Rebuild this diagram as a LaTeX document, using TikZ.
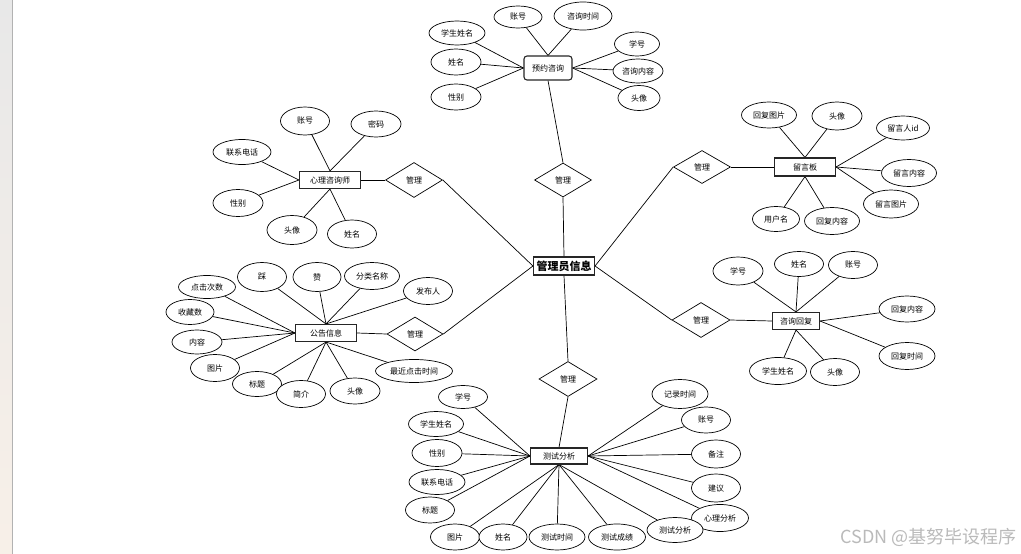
\documentclass[tikz,border=0pt]{standalone}
\usepackage{fontspec}
\newfontfamily\cjk{Noto Sans CJK SC}
\usetikzlibrary{shapes.geometric,backgrounds}
\begin{document}
\begin{tikzpicture}[x=1pt,y=-1pt,
  attr/.style={ellipse, draw, line width=0.7pt, fill=white, inner sep=0pt,
    minimum width=49pt, minimum height=26pt, font=\cjk\fontsize{8}{9}\selectfont},
  ent/.style={rectangle, draw=black!85, line width=1.1pt, fill=white, inner sep=0pt,
    minimum width=61pt, minimum height=17pt, font=\cjk\fontsize{8}{9}\selectfont},
  rel/.style={diamond, draw, line width=0.7pt, fill=white, aspect=1.7, inner sep=0pt,
    minimum width=57pt, minimum height=34pt, font=\cjk\fontsize{8}{9}\selectfont},
  link/.style={line width=0.7pt}]
\useasboundingbox (0,0) rectangle (1021,554);

% top cluster
\node[ent, rounded corners=3pt, minimum width=48pt, minimum height=24pt] (yy) at (548,68) {预约咨询};
\node[attr, minimum width=48pt, minimum height=22pt] (yy1) at (518,17) {账号};
\node[attr, minimum width=58pt, minimum height=28pt] (yy2) at (583,16) {咨询时间};
\node[attr, minimum width=56pt, minimum height=24pt] (yy3) at (457,33) {学生姓名};
\node[attr, minimum width=50pt] (yy4) at (456,62) {姓名};
\node[attr, minimum width=50pt] (yy5) at (456,97) {性别};
\node[attr, minimum width=45pt, minimum height=24pt] (yy6) at (637,44) {学号};
\node[attr, minimum width=50pt, minimum height=24pt] (yy7) at (638,71) {咨询内容};
\node[attr, minimum width=42pt, minimum height=25pt] (yy8) at (639,98) {头像};

% center
\node[rel] (r1) at (563,180) {管理};
\node[ent, font=\cjk\bfseries\fontsize{11}{12}\selectfont, minimum width=61pt, minimum height=18pt] (admin) at (564,266) {管理员信息};
\node[rel, minimum width=58pt, minimum height=35pt] (r6) at (568,379) {管理};

% left top
\node[ent] (xl) at (330,180) {心理咨询师};
\node[attr, minimum height=28pt] (xl1) at (305,121) {账号};
\node[attr, minimum width=50pt] (xl2) at (376,124) {密码};
\node[attr, minimum width=58pt, minimum height=25pt] (xl3) at (242,152) {联系电话};
\node[attr, minimum width=50pt, minimum height=27pt] (xl4) at (238,203) {性别};
\node[attr, minimum width=50pt, minimum height=29pt] (xl5) at (292,230) {头像};
\node[attr, minimum height=28pt] (xl6) at (352,234) {姓名};
\node[rel, minimum height=35pt] (r2) at (414,180) {管理};

% right top
\node[ent, minimum height=18pt] (ly) at (805,167) {留言板};
\node[rel, minimum height=33pt] (r3) at (702,167) {管理};
\node[attr, minimum width=55pt] (ly1) at (769,115) {回复图片};
\node[attr, minimum width=50pt, minimum height=28pt] (ly2) at (837,116) {头像};
\node[attr, minimum width=53pt, minimum height=24pt] (ly3) at (903,128) {留言人id};
\node[attr, minimum width=55pt, minimum height=27pt] (ly4) at (909,173) {留言内容};
\node[attr, minimum width=55pt, minimum height=28pt] (ly5) at (891,204) {留言图片};
\node[attr, minimum width=47pt, minimum height=25pt] (ly6) at (776,219) {用户名};
\node[attr, minimum width=55pt, minimum height=27pt] (ly7) at (832,221) {回复内容};

% left middle
\node[ent] (gg) at (326,333) {公告信息};
\node[rel, minimum width=56pt] (r4) at (415,334) {管理};
\node[attr, minimum width=57pt, minimum height=23pt] (gg1) at (207,287) {点击次数};
\node[attr, minimum height=29pt] (gg2) at (262,277) {踩};
\node[attr, minimum width=48pt, minimum height=29pt] (gg3) at (317,277) {赞};
\node[attr, minimum width=55pt, minimum height=27pt] (gg4) at (372,276) {分类名称};
\node[attr, minimum height=27pt] (gg5) at (428,291) {发布人};
\node[attr, minimum width=48pt, minimum height=25pt] (gg6) at (190,312) {收藏数};
\node[attr, minimum width=50pt, minimum height=24pt] (gg7) at (197,342) {内容};
\node[attr, minimum height=27pt] (gg8) at (215,368) {图片};
\node[attr, minimum height=25pt] (gg9) at (257,384) {标题};
\node[attr, minimum height=27pt] (gg10) at (301,394) {简介};
\node[attr, minimum width=50pt, minimum height=26pt] (gg11) at (355,391) {头像};
\node[attr, minimum width=77pt, minimum height=23pt] (gg12) at (414,371) {最近点击时间};

% right middle
\node[ent, minimum width=47pt, minimum height=17pt] (zx) at (796,321) {咨询回复};
\node[rel, minimum width=58pt, minimum height=35pt] (r5) at (701,320) {管理};
\node[attr, minimum width=50pt, minimum height=28pt] (zx1) at (738,271) {学号};
\node[attr, minimum height=25pt] (zx2) at (799,264) {姓名};
\node[attr, minimum height=27pt] (zx3) at (853,265) {账号};
\node[attr, minimum width=56pt] (zx4) at (907,309) {回复内容};
\node[attr, minimum width=56pt, minimum height=27pt] (zx5) at (907,356) {回复时间};
\node[attr, minimum width=57pt, minimum height=27pt] (zx6) at (778,371) {学生姓名};
\node[attr, minimum height=27pt] (zx7) at (835,372) {头像};

% bottom
\node[ent, minimum width=57pt, minimum height=16pt] (cs) at (559,456) {测试分析};
\node[attr, minimum height=23pt] (cs1) at (463,397) {学号};
\node[attr, minimum width=55pt, minimum height=25pt] (cs2) at (436,424) {学生姓名};
\node[attr, minimum width=50pt, minimum height=27pt] (cs3) at (437,453) {性别};
\node[attr, minimum width=56pt, minimum height=25pt] (cs4) at (437,482) {联系电话};
\node[attr] (cs5) at (430,510) {标题};
\node[attr] (cs6) at (455,537) {图片};
\node[attr, minimum width=48pt] (cs7) at (503,537) {姓名};
\node[attr, minimum width=56pt] (cs8) at (557,537) {测试时间};
\node[attr, minimum width=57pt] (cs9) at (617,537) {测试成绩};
\node[attr, minimum width=57pt, minimum height=27pt] (cs11) at (720,518) {心理分析};
\node[attr, minimum width=56pt, minimum height=25pt] (cs10) at (675,530) {测试分析};
\node[attr, minimum width=56pt, minimum height=29pt] (cs12) at (680,394) {记录时间};
\node[attr] (cs13) at (706,420) {账号};
\node[attr, minimum height=28pt] (cs14) at (716,454) {备注};
\node[attr, minimum height=28pt] (cs15) at (716,488) {建议};

\node[font=\cjk\fontsize{18}{20}\selectfont, text=black!27, anchor=east, inner sep=0pt] (wm) at (1017,537) {CSDN @基努毕设程序};

\begin{scope}[on background layer]
\fill[white] (0,0) rectangle (1021,554);
\shade[top color=gray!18, bottom color=brown!12] (0,0) rectangle (12,554);
\draw[gray!60, line width=0.8pt] (12,0) -- (12,554);
% top
\foreach \a in {yy1,yy2} \draw[link] (yy.north) -- (\a);
\foreach \a in {yy3,yy4,yy5} \draw[link] (yy.west) -- (\a);
\foreach \a in {yy6,yy7,yy8} \draw[link] (yy.east) -- (\a);
\draw[link] (yy.south) -- (r1.north);
\draw[link] (r1.south) -- (admin.north);
% left top
\foreach \a in {xl1,xl2} \draw[link] (xl.north) -- (\a);
\foreach \a in {xl3,xl4} \draw[link] (xl.west) -- (\a);
\foreach \a in {xl5,xl6} \draw[link] (xl.south) -- (\a);
\draw[link] (xl.east) -- (r2.west);
\draw[link] (r2.east) -- (admin.west);
% right top
\foreach \a in {ly1,ly2} \draw[link] (ly.north) -- (\a);
\foreach \a in {ly3,ly4,ly5} \draw[link] (ly.east) -- (\a);
\foreach \a in {ly6,ly7} \draw[link] (ly.south) -- (\a);
\draw[link] (ly.west) -- (r3.east);
\draw[link] (r3.west) -- (admin.east);
% left middle
\foreach \a in {gg1,gg6,gg7,gg8} \draw[link] (gg.west) -- (\a);
\foreach \a in {gg2,gg3,gg4,gg5} \draw[link] (gg.north) -- (\a);
\foreach \a in {gg9,gg10,gg11,gg12} \draw[link] (gg.south) -- (\a);
\draw[link] (gg.east) -- (r4.west);
\draw[link] (r4.east) -- (admin.west);
% right middle
\foreach \a in {zx1,zx2,zx3} \draw[link] (zx.north) -- (\a);
\foreach \a in {zx4,zx5} \draw[link] (zx.east) -- (\a);
\foreach \a in {zx6,zx7} \draw[link] (zx.south) -- (\a);
\draw[link] (zx.west) -- (r5.east);
\draw[link] (r5.west) -- (admin.east);
% bottom
\draw[link] (admin.south) -- (r6.north);
\draw[link] (r6.south) -- (cs.north);
\foreach \a in {cs1,cs2,cs3,cs4,cs5} \draw[link] (cs.west) -- (\a);
\foreach \a in {cs6,cs7,cs8,cs9,cs10} \draw[link] (cs.south) -- (\a);
\foreach \a in {cs11,cs12,cs13,cs14,cs15} \draw[link] (cs.east) -- (\a);
\end{scope}
\end{tikzpicture}
\end{document}
